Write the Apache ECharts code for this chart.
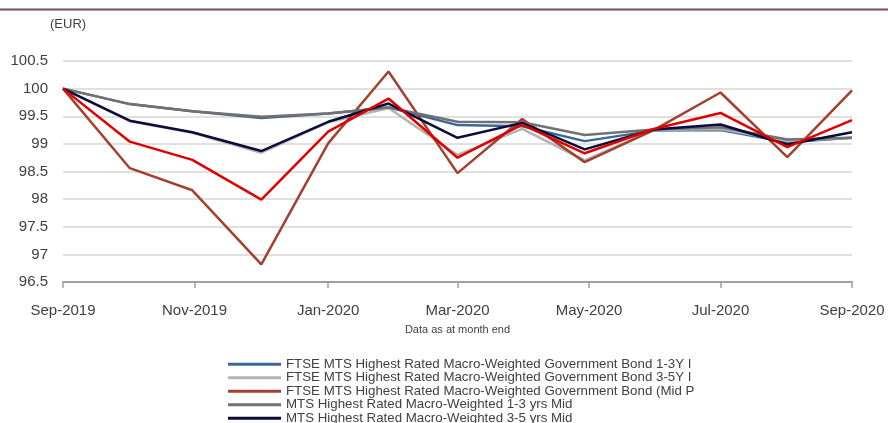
<!DOCTYPE html>
<html>
<head>
<meta charset="utf-8">
<script src="https://cdn.jsdelivr.net/npm/echarts@6/dist/echarts.min.js"></script>
<style>
  html, body { margin: 0; padding: 0; background: #fff; }
  #chart { width: 888px; height: 423px; }
</style>
</head>
<body>
<div id="chart"></div>
<script>
// month-end dates (last business day of each month)
var dates = ['2019-09-30', '2019-10-31', '2019-11-29', '2019-12-31', '2020-01-31', '2020-02-28',
             '2020-03-31', '2020-04-30', '2020-05-29', '2020-06-30', '2020-07-31', '2020-08-31', '2020-09-30'];

// tick positions shown on the x axis
var tickDates = ['2019-09-30', '2019-11-30', '2020-01-31', '2020-03-31', '2020-05-31', '2020-07-31', '2020-09-30'];

var names = [
    'FTSE MTS Highest Rated Macro-Weighted Government Bond 1-3Y I',
    'FTSE MTS Highest Rated Macro-Weighted Government Bond 3-5Y I',
    'FTSE MTS Highest Rated Macro-Weighted Government Bond (Mid P',
    'MTS Highest Rated Macro-Weighted 1-3 yrs Mid',
    'MTS Highest Rated Macro-Weighted 3-5 yrs Mid',
    'MTS Highest Rated Macro-Weighted Mid'
];

var ftse13 = [100, 99.72, 99.59, 99.47, 99.55, 99.66, 99.34, 99.32, 99.05, 99.24, 99.25, 99.03, 99.11];
var ftse35 = [100, 99.41, 99.20, 98.84, 99.39, 99.65, 98.80, 99.27, 98.70, 99.25, 99.27, 99.05, 99.11];
var ftseMid = [100, 98.56, 98.16, 96.82, 99.01, 100.31, 98.47, 99.45, 98.67, 99.25, 99.93, 98.76, 99.97];
var mts13 = [100, 99.72, 99.59, 99.49, 99.55, 99.66, 99.40, 99.39, 99.16, 99.26, 99.30, 99.08, 99.11];
var mts35 = [100, 99.42, 99.21, 98.87, 99.40, 99.73, 99.11, 99.38, 98.90, 99.26, 99.35, 98.99, 99.21];
var mtsMid = [100, 99.04, 98.71, 97.99, 99.22, 99.82, 98.75, 99.35, 98.83, 99.27, 99.56, 98.94, 99.43];

var colors = ['#3b6797', '#b3b3b3', '#a3402e', '#717171', '#0b0b3c', '#e00000'];
var valueSets = [ftse13, ftse35, ftseMid, mts13, mts35, mtsMid];
var zLevels = [2, 2, 3, 3, 4, 5];

var months = ['Jan', 'Feb', 'Mar', 'Apr', 'May', 'Jun', 'Jul', 'Aug', 'Sep', 'Oct', 'Nov', 'Dec'];
var DAY = 86400000;
var FONT = 'Liberation Sans, Arial, sans-serif';

function toTime(s) {
    var p = s.split('-');
    return Date.UTC(+p[0], +p[1] - 1, +p[2]);
}
var t0 = toTime(dates[0]);
// x position = days since first date
function toDay(s) { return Math.round((toTime(s) - t0) / DAY); }

var series = valueSets.map(function(vals, i) {
    return {
        name: names[i],
        type: 'line',
        symbol: 'none',
        z: zLevels[i],
        lineStyle: { width: 2.5, color: colors[i] },
        itemStyle: { color: colors[i] },
        data: vals.map(function(v, k) { return [toDay(dates[k]), v]; })
    };
});

var tickDays = tickDates.map(toDay);

// one legend per row so the list runs off the bottom like the original instead of wrapping
var legends = names.map(function(n, i) {
    return {
        orient: 'vertical',
        left: 228,
        top: 357.5 + i * 13.5,
        padding: 0,
        itemWidth: 53,
        itemHeight: 3,
        icon: 'rect',
        textStyle: { fontSize: 13.3, lineHeight: 13.5, color: '#404040' },
        data: [n]
    };
});

var chart = echarts.init(document.getElementById('chart'));
chart.setOption({
    animation: false,
    textStyle: { fontFamily: FONT },
    grid: { left: 63, right: 36, top: 61, bottom: 141 },
    legend: legends,
    xAxis: {
        type: 'value',
        min: 0,
        max: toDay(dates[dates.length - 1]),
        name: 'Data as at month end',
        nameLocation: 'middle',
        nameGap: 42,
        nameTextStyle: { fontSize: 11, color: '#404040' },
        axisLine: { lineStyle: { color: '#a0a0a0', width: 2 } },
        axisTick: {
            show: true, length: 6,
            lineStyle: { color: '#a0a0a0', width: 1.5 },
            customValues: tickDays
        },
        axisLabel: {
            fontSize: 15, color: '#404040', margin: 21,
            customValues: tickDays,
            formatter: function(v) {
                var d = new Date(t0 + v * DAY);
                return months[d.getUTCMonth()] + '-' + d.getUTCFullYear();
            }
        },
        splitLine: { show: false }
    },
    yAxis: {
        type: 'value',
        min: 96.5,
        max: 100.5,
        interval: 0.5,
        axisLine: { show: false },
        axisTick: { show: false },
        axisLabel: { fontSize: 15, color: '#404040', margin: 15 },
        splitLine: { lineStyle: { color: '#d6d6d6', width: 1.5 } }
    },
    graphic: [
        {
            type: 'rect',
            shape: { x: 0, y: 8.5, width: 888, height: 2 },
            style: { fill: '#7b4a5b' }
        },
        {
            type: 'text',
            left: 50, top: 18,
            style: { text: '(EUR)', fontSize: 13, fill: '#404040', fontFamily: FONT }
        }
    ],
    series: series
});
</script>
</body>
</html>
